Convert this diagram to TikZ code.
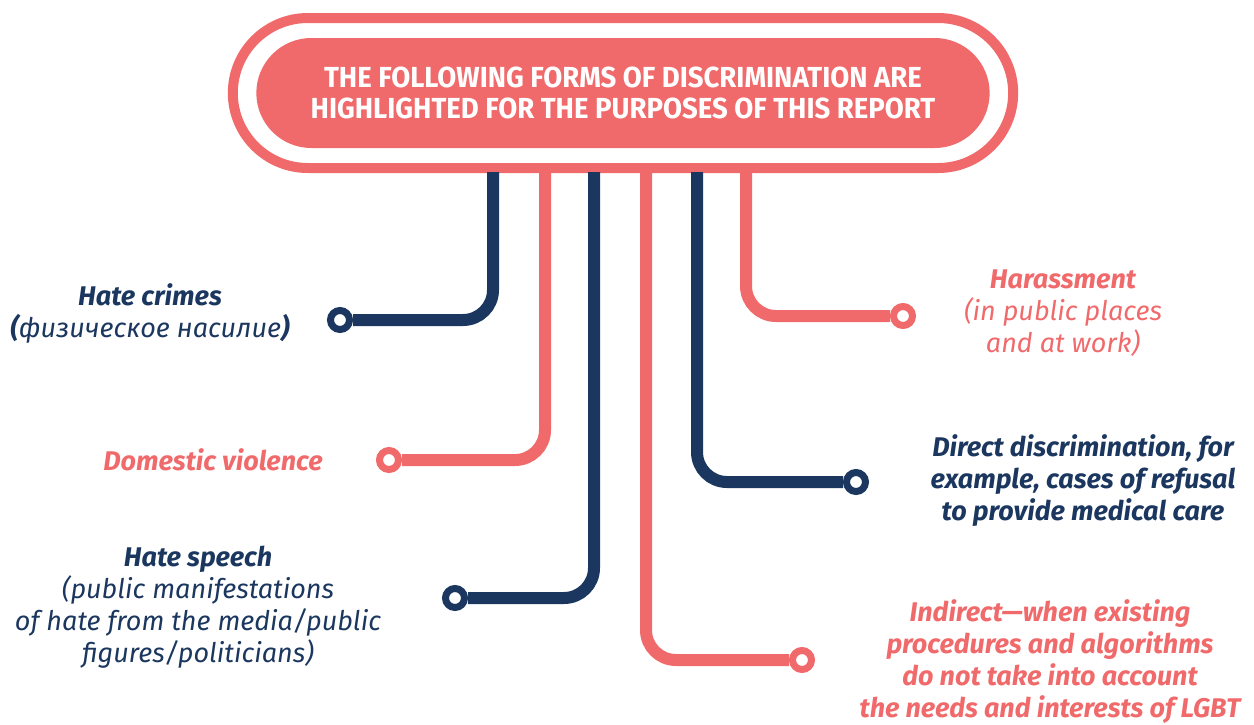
\documentclass[tikz,border=0pt]{standalone}
\usepackage{fontspec}
\setmainfont{Fira Sans}
\newfontfamily\titlefont[FakeStretch=0.95]{Fira Sans}
\usetikzlibrary{shapes.misc}
\definecolor{navy}{HTML}{1B375F}
\definecolor{coral}{HTML}{F16A6B}
\tikzset{
	stem/.style={line width=12pt, draw=#1, rounded corners=30pt},
	dot/.style={circle, draw=#1, line width=7pt, fill=white, minimum size=19pt, inner sep=0pt},
	form/.style={text=#1, align=center, font=\fontsize{27}{32}\selectfont\itshape},
}

\begin{document}
\begin{tikzpicture}[x=1pt, y=-1pt]
		\useasboundingbox (0,0) rectangle (1254,724);
		\node[rounded rectangle, fill=coral, text=white, minimum width=740pt, minimum height=110pt, align=center,
			font=\titlefont\bfseries\fontsize{29}{31}\selectfont] (title) at (623,93)
			{THE FOLLOWING FORMS OF DISCRIMINATION ARE\\HIGHLIGHTED FOR THE PURPOSES OF THIS REPORT};
		\node[rounded rectangle, draw=coral, line width=10pt, minimum width=787pt, minimum height=150pt] (frame) at (title) {};

		\foreach \n/\sx/\dx/\dy/\col in {a/493/340/320/navy, b/545/389/460/coral, c/594/455/598/navy,
			d/646/802/660/coral, e/697/856/482/navy, f/746/903/316/coral}{
			\coordinate (top\n) at (\sx,172);
			\node[dot=\col] (dot\n) at (\dx,\dy) {};
			\draw[stem=\col] (top\n) |- (dot\n);
		}

		\node[form=navy] (crimes) at (150,313) {\textbf{Hate crimes}\\\textbf{(}физическое насилие\textbf{)}};
		\node[form=coral] (domestic) at (213,460) {\textbf{Domestic violence}};
		\node[form=navy] (speech) at (198,607) {\textbf{Hate speech}\\(public manifestations\\of hate from the media/public\\figures/politicians)};
		\node[form=coral] (harass) at (1063,313) {\textbf{Harassment}\\(in public places\\and at work)};
		\node[form=navy, font=\fontsize{27}{32}\selectfont\itshape\bfseries] (direct) at (1083,481)
			{Direct discrimination, for\\example, cases of refusal\\to provide medical care};
		\node[form=coral, font=\fontsize{27}{32}\selectfont\itshape\bfseries] (indirect) at (1050,662)
			{Indirect—when existing\\procedures and algorithms\\do not take into account\\the needs and interests of LGBT};
	\end{tikzpicture}
\end{document}
